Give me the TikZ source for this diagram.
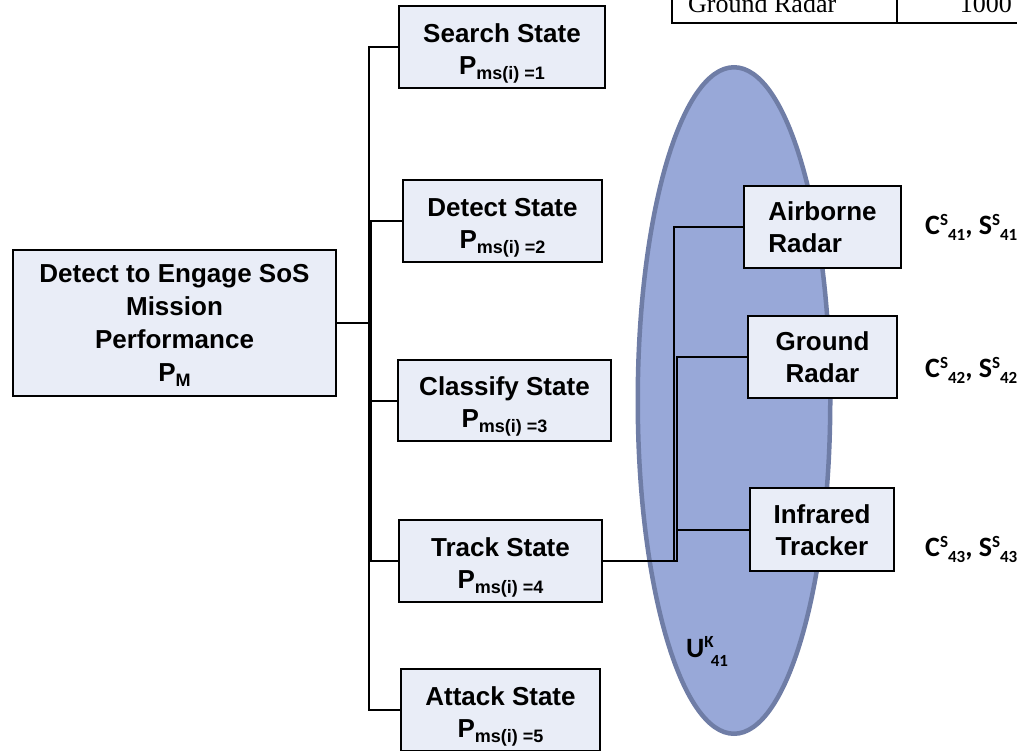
\documentclass[tikz,border=0pt]{standalone}
\usepackage{fontspec}
\setmainfont{Liberation Sans}
\newfontfamily\calibfont{Carlito}
\newfontfamily\timesfont{Liberation Serif}
\usetikzlibrary{shapes.geometric}
\definecolor{boxfill}{HTML}{E9EDF7}
\definecolor{ellfill}{HTML}{98A8D8}
\definecolor{elldraw}{HTML}{6F7DA6}
\newcommand\Pms[1]{P\raisebox{-5pt}{\fontsize{18}{18}\selectfont ms(i) =#1}}
\newcommand\subs[1]{\raisebox{-6pt}{\fontsize{17}{17}\selectfont #1}}
\newcommand\sups[1]{\raisebox{9pt}{\fontsize{17}{17}\selectfont #1}}
\begin{document}
\begin{tikzpicture}[x=1pt,y=-1pt,
  statebox/.style={draw=black, line width=2pt, fill=boxfill, inner sep=0pt,
    font=\fontsize{26}{32}\selectfont\bfseries, text height=0pt, text depth=10pt},
  sysbox/.style={statebox, text depth=12.5pt},
  conn/.style={draw=black, line width=2pt},
  lbl/.style={anchor=base west, inner sep=0pt, font=\calibfont\bfseries\fontsize{28}{28}\selectfont},
  tbl/.style={anchor=base west, inner sep=0pt, font=\timesfont\fontsize{26}{26}\selectfont},
  tblline/.style={draw=black, line width=2pt}
]
\useasboundingbox (0,0) rectangle (1017,750);

% table fragment at the top
\draw[tblline] (672,-5) -- (672,22.5) -- (1020,22.5);
\draw[tblline] (897,-5) -- (897,22.5);
\node[tbl] (gr) at (688,12.5) {Ground Radar};
\node[tbl, anchor=base east] (val) at (1012,12.5) {1000};

% ellipse (system set)
\node[ellipse, draw=elldraw, fill=ellfill, line width=4.5pt, minimum width=192.5pt,
  minimum height=666.5pt, inner sep=0pt] (uset) at (734,400.5) {};

% main box
\node[statebox, minimum width=323pt, minimum height=146pt,
  font=\fontsize{26}{33}\selectfont\bfseries, text depth=81pt] (main) at (174.5,323)
  {\begin{tabular}[t]{@{}c@{}}Detect to Engage SoS\\Mission\\Performance\\P\raisebox{-5pt}{\fontsize{18}{18}\selectfont M}\end{tabular}};

% state boxes
\node[statebox, minimum width=206pt, minimum height=82pt] (search) at (502,47)
  {\begin{tabular}[t]{@{}c@{}}Search State\\\Pms{1}\end{tabular}};
\node[statebox, minimum width=199pt, minimum height=82pt] (detect) at (502.5,221)
  {\begin{tabular}[t]{@{}c@{}}Detect State\\\Pms{2}\end{tabular}};
\node[statebox, minimum width=213pt, minimum height=81pt] (classify) at (504.5,400.5)
  {\begin{tabular}[t]{@{}c@{}}Classify State\\\Pms{3}\end{tabular}};
\node[statebox, minimum width=203pt, minimum height=82pt] (track) at (500.5,561)
  {\begin{tabular}[t]{@{}c@{}}Track State\\\Pms{4}\end{tabular}};
\node[statebox, minimum width=199pt, minimum height=82pt] (attack) at (500.5,710)
  {\begin{tabular}[t]{@{}c@{}}Attack State\\\Pms{5}\end{tabular}};

% system boxes
\node[sysbox, minimum width=157pt, minimum height=82pt] (airborne) at (822.5,227)
  {\begin{tabular}[t]{@{}l@{}}Airborne\\Radar\end{tabular}};
\node[sysbox, minimum width=149pt, minimum height=82pt] (ground) at (822.5,357)
  {\begin{tabular}[t]{@{}c@{}}Ground\\Radar\end{tabular}};
\node[sysbox, minimum width=144pt, minimum height=83pt] (infrared) at (822,529.5)
  {\begin{tabular}[t]{@{}c@{}}Infrared\\Tracker\end{tabular}};

% connectors from mission to states
\draw[conn] (main.east) -- ++(32,0) |- (search.west);
\draw[conn] (main.east) -- ++(34,0) |- (detect.west);
\draw[conn] (main.east) -- ++(34,0) |- (classify.west);
\draw[conn] (main.east) -- ++(34,0) |- (track.west);
\draw[conn] (main.east) -- ++(32,0) |- (attack.west);

% connectors from track state to systems
\draw[conn] (track.east) -- ++(71,0) |- (airborne.west);
\draw[conn] (track.east) -- ++(74,0) |- (ground.west);
\draw[conn] (track.east) -- ++(74,0) |- (infrared.west);

% labels
\node[lbl] (c41) at (925,234) {C\sups{S}\subs{41}, S\sups{S}\subs{41}};
\node[lbl] (c42) at (925,377) {C\sups{S}\subs{42}, S\sups{S}\subs{42}};
\node[lbl] (c43) at (925,556) {C\sups{S}\subs{43}, S\sups{S}\subs{43}};
\node[lbl] (u41) at (686,657) {U\raisebox{10pt}{\fontsize{17}{17}\selectfont K}\hspace{-3pt}\raisebox{-9pt}{\fontsize{17}{17}\selectfont 41}};
\end{tikzpicture}
\end{document}
